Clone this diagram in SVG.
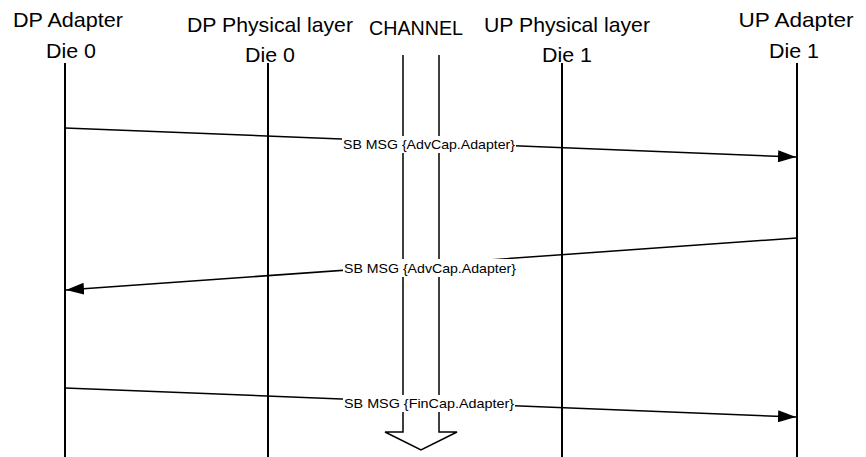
<svg xmlns="http://www.w3.org/2000/svg" width="866" height="457" viewBox="0 0 866 457">
<style>
.t{font-family:"Liberation Sans",Arial,sans-serif;font-size:21px;fill:#000;text-anchor:middle}
.l{font-family:"Liberation Sans",Arial,sans-serif;font-size:13px;fill:#000;text-anchor:middle}
.life{stroke:#000;stroke-width:2;fill:none}
.msg{stroke:#000;stroke-width:1.5;fill:none}
</style>
<defs>
<marker id="ah" markerWidth="18" markerHeight="12" refX="18" refY="6" orient="auto" markerUnits="userSpaceOnUse">
<path d="M0,0 L18,6 L0,12 Z" fill="#000"/>
</marker>
</defs>
<rect width="866" height="457" fill="#fff"/>
<g id="dp-adapter">
<text class="t" x="68" y="27" textLength="110" lengthAdjust="spacingAndGlyphs">DP Adapter</text>
<text class="t" x="71" y="58" textLength="50" lengthAdjust="spacingAndGlyphs">Die 0</text>
<line class="life" x1="65" y1="63" x2="65" y2="457"/>
</g>
<g id="dp-phy">
<text class="t" x="270" y="32" textLength="166" lengthAdjust="spacingAndGlyphs">DP Physical layer</text>
<text class="t" x="270" y="62" textLength="50" lengthAdjust="spacingAndGlyphs">Die 0</text>
<line class="life" x1="268" y1="63" x2="268" y2="457"/>
</g>
<g id="channel">
<text class="t" x="416" y="35" textLength="94" lengthAdjust="spacingAndGlyphs">CHANNEL</text>
<path class="msg" d="M403,55 L403,432 L385,432 L421,450 L457,432 L439,432 L439,55"/>
</g>
<g id="up-phy">
<text class="t" x="567" y="32" textLength="166" lengthAdjust="spacingAndGlyphs">UP Physical layer</text>
<text class="t" x="567" y="62" textLength="50" lengthAdjust="spacingAndGlyphs">Die 1</text>
<line class="life" x1="562" y1="63" x2="562" y2="457"/>
</g>
<g id="up-adapter">
<text class="t" x="796" y="27" textLength="115" lengthAdjust="spacingAndGlyphs">UP Adapter</text>
<text class="t" x="794" y="58" textLength="50" lengthAdjust="spacingAndGlyphs">Die 1</text>
<line class="life" x1="797" y1="63" x2="797" y2="457"/>
</g>
<g id="connectors">
<line class="msg" x1="65" y1="128" x2="796" y2="157" marker-end="url(#ah)"/>
<rect x="342" y="136" width="174" height="17" fill="#fff"/>
<text class="l" x="429" y="149" textLength="172" lengthAdjust="spacingAndGlyphs">SB MSG {AdvCap.Adapter}</text>
<line class="msg" x1="797" y1="238" x2="66" y2="290" marker-end="url(#ah)"/>
<rect x="343" y="259" width="174" height="18" fill="#fff"/>
<text class="l" x="430" y="273" textLength="172" lengthAdjust="spacingAndGlyphs">SB MSG {AdvCap.Adapter}</text>
<line class="msg" x1="65" y1="388" x2="796" y2="417" marker-end="url(#ah)"/>
<rect x="343" y="395" width="172" height="17" fill="#fff"/>
<text class="l" x="429" y="408" textLength="170" lengthAdjust="spacingAndGlyphs">SB MSG {FinCap.Adapter}</text>
</g>
</svg>
